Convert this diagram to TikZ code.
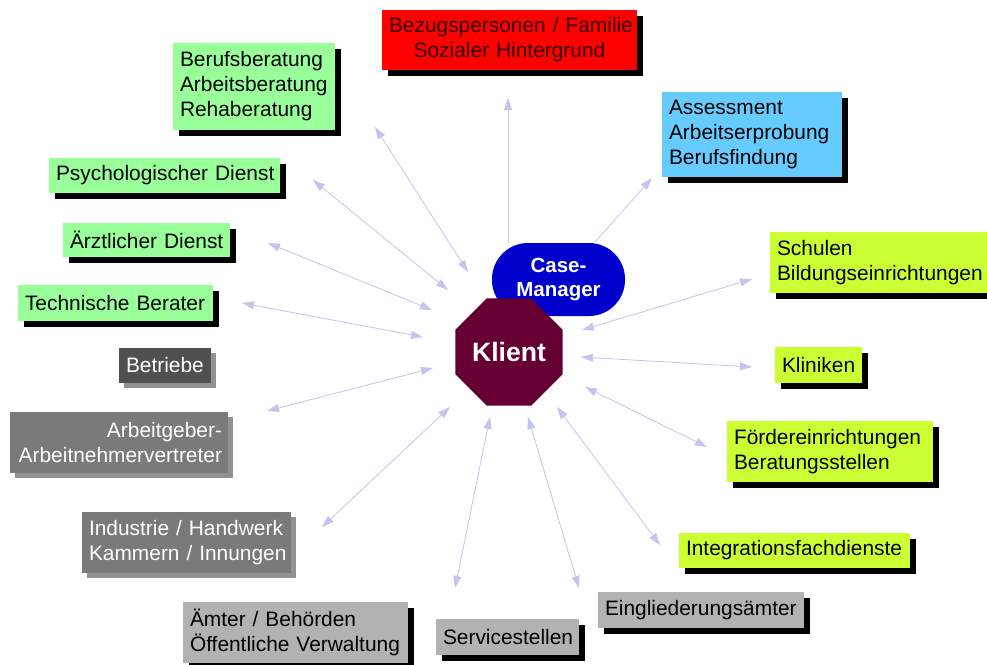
\documentclass[tikz,border=0pt]{standalone}
\usepackage{fontspec}
\setmainfont{Liberation Sans}
\usetikzlibrary{arrows.meta,shapes.geometric,shadows}

\definecolor{arr}{RGB}{196,196,240}
\definecolor{cgreen}{RGB}{153,255,153}
\definecolor{cyel}{RGB}{204,255,51}
\definecolor{cblue}{RGB}{102,204,255}
\definecolor{cred}{RGB}{255,0,0}
\definecolor{credtext}{RGB}{50,0,0}
\definecolor{cmblue}{RGB}{0,0,204}
\definecolor{cklient}{RGB}{102,0,51}
\definecolor{cgdark}{RGB}{80,80,80}
\definecolor{cgmid}{RGB}{122,122,122}
\definecolor{cglight}{RGB}{178,178,178}
\definecolor{cshgray}{RGB}{145,145,145}

\tikzset{
  box/.style={rectangle, inner xsep=7pt, inner ysep=0pt,
    font=\fontsize{20.9}{25}\selectfont},
  blackshadow/.style={drop shadow={shadow xshift=6pt, shadow yshift=-6pt, fill=black, opacity=1}},
  grayshadow/.style={drop shadow={shadow xshift=5pt, shadow yshift=-5pt, fill=cshgray, opacity=1}},
  greenbox/.style={box, blackshadow, fill=cgreen, align=left},
  yelbox/.style={box, blackshadow, fill=cyel, align=left},
  lgraybox/.style={box, blackshadow, fill=cglight, align=left},
  dgraybox/.style={box, grayshadow, fill=cgmid, text=white},
  conn/.style={draw=arr, line width=0.8pt,
    {Triangle[length=12pt,width=8pt]}-{Triangle[length=12pt,width=8pt]}},
  oneway/.style={draw=arr, line width=0.8pt, -{Triangle[length=12pt,width=8pt]}}
}

\begin{document}
\begin{tikzpicture}[x=1pt,y=-1pt]
\useasboundingbox[fill=white] (0,0) rectangle (987,664);

% connector end points
\coordinate (bezA) at (508,243);  \coordinate (bezB) at (508,98);
\coordinate (assA) at (595,242);  \coordinate (assB) at (652,178);
\coordinate (berA) at (468,272);  \coordinate (berB) at (375,127);
\coordinate (psyA) at (448,290);  \coordinate (psyB) at (313,180);
\coordinate (aerA) at (432,310);  \coordinate (aerB) at (268,243);
\coordinate (tecA) at (423,337);  \coordinate (tecB) at (242,303);
\coordinate (argA) at (433,368);  \coordinate (argB) at (267,411);
\coordinate (indA) at (450,407);  \coordinate (indB) at (322,527);
\coordinate (serA) at (490,417);  \coordinate (serB) at (455,588);
\coordinate (einA) at (528,417);  \coordinate (einB) at (579,588);
\coordinate (intA) at (557,407);  \coordinate (intB) at (660,545);
\coordinate (foeA) at (585,387);  \coordinate (foeB) at (707,447);
\coordinate (kliA) at (581,357);  \coordinate (kliB) at (752,367);
\coordinate (schA) at (582,330);  \coordinate (schB) at (752,279);

\draw[oneway] (bezA) -- (bezB);
\draw[oneway] (assA) -- (assB);
\draw[conn] (berA) -- (berB);
\draw[conn] (psyA) -- (psyB);
\draw[conn] (aerA) -- (aerB);
\draw[conn] (tecA) -- (tecB);
\draw[conn] (argA) -- (argB);
\draw[conn] (indA) -- (indB);
\draw[conn] (serA) -- (serB);
\draw[conn] (einA) -- (einB);
\draw[conn] (intA) -- (intB);
\draw[conn] (foeA) -- (foeB);
\draw[conn] (kliA) -- (kliB);
\draw[conn] (schA) -- (schB);

% boxes
\node[box, blackshadow, fill=cred, text=credtext, align=center, text width=241pt, minimum height=60pt]
  (bez) at (509.5,40) {\mbox{Bezugspersonen / Familie}\\\mbox{Sozialer Hintergrund}};
\node[greenbox, text width=148pt, minimum height=87pt]
  (beruf) at (254,86.5) {\mbox{Berufsberatung}\\\mbox{Arbeitsberatung}\\\mbox{Rehaberatung}};
\node[box, blackshadow, fill=cblue, align=left, text width=166pt, minimum height=85pt]
  (assess) at (752,134.5) {\mbox{Assessment}\\\mbox{Arbeitserprobung}\\\mbox{Berufsfindung}};
\node[yelbox, text width=211pt, minimum height=61pt]
  (schulen) at (882.5,262.5) {\mbox{Schulen}\\\mbox{Bildungseinrichtungen}};
\node[greenbox, text width=217pt, minimum height=35pt]
  (psych) at (164.5,175.5) {\mbox{Psychologischer Dienst}};
\node[greenbox, text width=153pt, minimum height=34pt]
  (aerzt) at (146.5,240) {\mbox{Ärztlicher Dienst}};
\node[greenbox, text width=181pt, minimum height=36pt]
  (tech) at (115.5,303) {\mbox{Technische Berater}};
\node[box, grayshadow, fill=cgdark, text=white, text width=78pt, minimum height=35pt]
  (betriebe) at (165,365.5) {\mbox{Betriebe}};
\node[dgraybox, inner xsep=6pt, align=right, text width=206pt, minimum height=61pt]
  (arbeit) at (119,442.5) {\mbox{Arbeitgeber-}\\\mbox{Arbeitnehmervertreter}};
\node[dgraybox, align=left, text width=195pt, minimum height=61pt]
  (industrie) at (186.5,542.5) {\mbox{Industrie / Handwerk}\\\mbox{Kammern / Innungen}};
\node[lgraybox, text width=211pt, minimum height=61pt]
  (aemter) at (295.5,632.5) {\mbox{Ämter / Behörden}\\\mbox{Öffentliche Verwaltung}};
\node[lgraybox, text width=129pt, minimum height=36pt]
  (service) at (507.5,637) {\mbox{Servicestellen}};
\node[lgraybox, text width=192pt, minimum height=36pt]
  (eingl) at (701,610) {\mbox{Eingliederungsämter}};
\node[yelbox, text width=217pt, minimum height=35pt]
  (integr) at (794.5,550.5) {\mbox{Integrationsfachdienste}};
\node[yelbox, text width=192pt, minimum height=61pt]
  (foerder) at (830,451.5) {\mbox{Fördereinrichtungen}\\\mbox{Beratungsstellen}};
\node[yelbox, text width=73pt, minimum height=36pt]
  (kliniken) at (818.5,365) {\mbox{Kliniken}};

% centre
\node[rectangle, rounded corners=36pt, minimum width=133pt, minimum height=73pt,
  fill=cmblue, text=white, align=center, inner sep=0pt,
  font=\bfseries\fontsize{20.5}{24}\selectfont]
  (cm) at (558.5,279.5) {Case-\\Manager};
\node[regular polygon, regular polygon sides=8, minimum size=116pt, inner sep=0pt,
  fill=cklient, text=white, font=\bfseries\fontsize{26.6}{30}\selectfont]
  (klient) at (509,352) {Klient};
\end{tikzpicture}
\end{document}
